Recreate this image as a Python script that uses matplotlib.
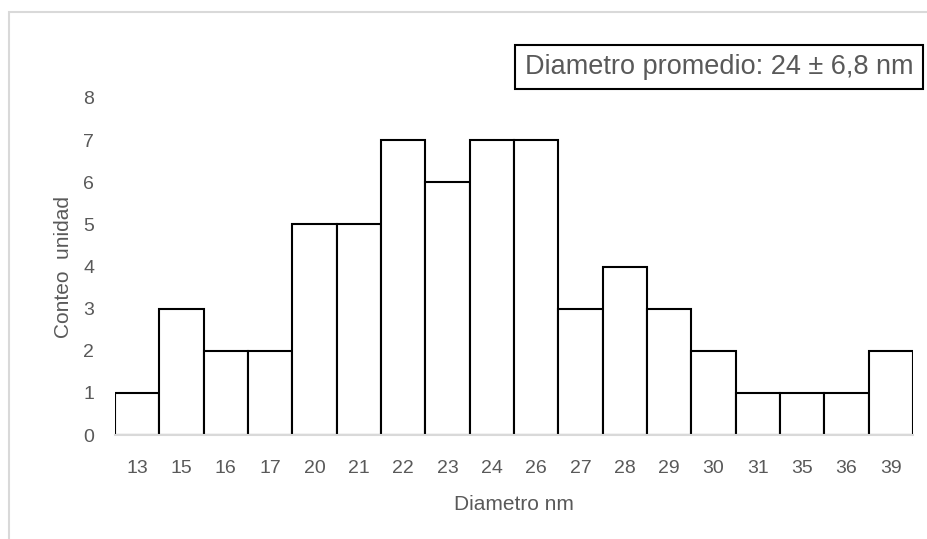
import matplotlib
matplotlib.use("Agg")
import matplotlib.pyplot as plt
from matplotlib.patches import Rectangle

# diameter bins (nm) and particle counts
diametros = ["13", "15", "16", "17", "20", "21", "22", "23", "24",
             "26", "27", "28", "29", "30", "31", "35", "36", "39"]
conteos = [1, 3, 2, 2, 5, 5, 7, 6, 7, 7, 3, 4, 3, 2, 1, 1, 1, 2]
y_ticks = [0, 1, 2, 3, 4, 5, 6, 7, 8]

W, H = 927, 539
fig = plt.figure(figsize=(W / 100, H / 100), dpi=100)
fig.patch.set_facecolor("white")
plt.rcParams["font.family"] = ["Liberation Sans", "DejaVu Sans"]

# light gray chart frame (Excel style)
fig.patches.append(Rectangle((9 / W, -0.05), 1.2, 1 - 12 / H + 0.05,
                             transform=fig.transFigure, fill=False,
                             edgecolor="#d9d9d9", linewidth=1.5))

x0, x1 = 115, 913
y_top, y_base = 98, 435
ax = fig.add_axes([x0 / W, 1 - y_base / H, (x1 - x0) / W, (y_base - y_top) / H])

pos = range(len(diametros))
ax.bar(pos, conteos, width=1.0, color="white", edgecolor="black", linewidth=1.5)

ax.set_xlim(-0.5, len(diametros) - 0.5)
ax.set_ylim(0, 8)
ax.set_xticks(list(pos))
ax.set_xticklabels(diametros)
ax.set_yticks(y_ticks)
ax.tick_params(length=0, labelsize=14, colors="#595959")
ax.tick_params(axis="x", pad=18)
ax.tick_params(axis="y", pad=15)

for side in ["top", "right", "left"]:
    ax.spines[side].set_visible(False)
ax.spines["bottom"].set_color("#d9d9d9")
ax.spines["bottom"].set_linewidth(1.5)

ax.set_xlabel("Diametro nm", fontsize=15, color="#595959", labelpad=13)
ax.set_ylabel("Conteo  unidad", fontsize=15, color="#595959", labelpad=7)

fig.text(719 / W, 1 - 67 / H, "Diametro promedio: 24 ± 6,8 nm",
         ha="center", va="center", fontsize=19.5, color="#595959",
         bbox=dict(boxstyle="square,pad=0.35", facecolor="white",
                   edgecolor="black", linewidth=1.5))

fig.savefig("out.png", dpi=100, facecolor="white")
